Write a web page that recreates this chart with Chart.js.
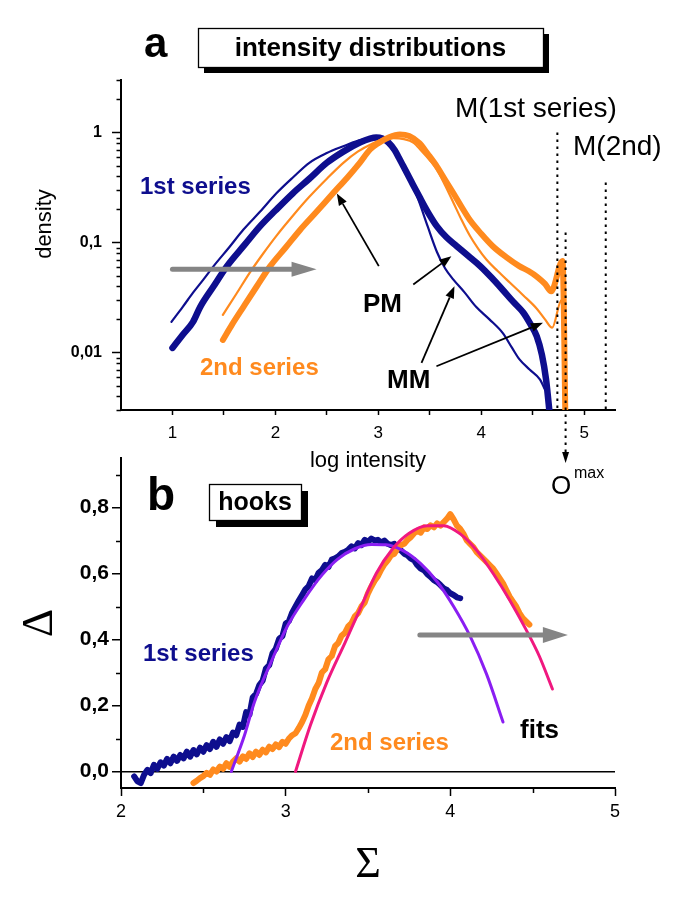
<!DOCTYPE html>
<html><head><meta charset="utf-8">
<script src="https://cdn.jsdelivr.net/npm/chart.js@4.4.1/dist/chart.umd.min.js"></script>
<style>
html,body{margin:0;padding:0;background:#fff;}
#wrap{position:relative;width:685px;height:906px;background:#fff;}
canvas{position:absolute;left:0;top:0;}
</style></head><body>
<div id="wrap"><canvas id="ca" width="685" height="906"></canvas><canvas id="cb" width="685" height="906"></canvas></div>
<script>
// ---------- Panel a: intensity distributions (log intensity vs density) ----------
const pm1X = [1.00,1.10,1.20,1.27,1.40,1.53,1.70,1.85,2.00,2.17,2.33,2.50,2.66,2.82,2.92,2.98,3.04,3.10,3.16,3.20,3.24,3.32,3.40,3.48,3.57,3.66,3.76,3.87,3.99,4.10,4.21,4.31,4.41,4.48,4.54,4.59,4.63,4.67];
const pm1Y = [0.011,0.0145,0.019,0.026,0.040,0.061,0.095,0.14,0.195,0.28,0.38,0.53,0.67,0.81,0.88,0.90,0.88,0.81,0.69,0.59,0.50,0.36,0.26,0.19,0.14,0.112,0.093,0.076,0.061,0.048,0.037,0.029,0.023,0.018,0.014,0.0095,0.0057,0.0025];
const mm1X = [0.99,1.10,1.20,1.30,1.40,1.55,1.69,1.85,2.01,2.17,2.33,2.50,2.66,2.80,2.90,2.97,3.04,3.10,3.16,3.24,3.32,3.40,3.48,3.57,3.65,3.73,3.84,3.95,4.08,4.21,4.30,4.37,4.47,4.57,4.62];
const mm1Y = [0.019,0.026,0.035,0.046,0.061,0.09,0.131,0.19,0.28,0.39,0.53,0.65,0.75,0.84,0.88,0.89,0.86,0.77,0.66,0.52,0.36,0.23,0.14,0.082,0.058,0.046,0.035,0.026,0.020,0.015,0.011,0.0087,0.0070,0.0057,0.0046];
const pm2X = [1.49,1.58,1.69,1.82,1.95,2.10,2.24,2.40,2.56,2.70,2.82,2.92,3.00,3.10,3.21,3.30,3.40,3.48,3.57,3.65,3.73,3.81,3.89,4.00,4.11,4.24,4.37,4.46,4.54,4.62,4.68,4.79,4.82];
const pm2Y = [0.013,0.018,0.026,0.040,0.061,0.090,0.13,0.19,0.28,0.39,0.53,0.70,0.80,0.90,0.96,0.93,0.80,0.64,0.49,0.37,0.28,0.21,0.16,0.12,0.093,0.074,0.061,0.055,0.049,0.042,0.036,0.068,0.002];
const mm2X = [1.49,1.62,1.75,1.88,2.01,2.17,2.33,2.50,2.66,2.80,2.95,3.05,3.15,3.25,3.34,3.42,3.50,3.57,3.65,3.73,3.81,3.89,3.97,4.05,4.16,4.28,4.41,4.54,4.62,4.69,4.78,4.82];
const mm2Y = [0.022,0.034,0.053,0.079,0.115,0.175,0.26,0.38,0.53,0.67,0.80,0.87,0.89,0.87,0.81,0.68,0.56,0.46,0.33,0.23,0.16,0.115,0.088,0.070,0.055,0.043,0.033,0.025,0.020,0.0168,0.030,0.002];
const aXTicks = [1,1.5,2,2.5,3,3.5,4,4.5,5];
const aYTicks = [0.003,0.004,0.005,0.006,0.007,0.008,0.009,0.01,0.02,0.03,0.04,0.05,0.06,0.07,0.08,0.09,0.1,0.2,0.3,0.4,0.5,0.6,0.7,0.8,0.9,1,2,3];
const aYLabelValues = [0.01,0.1,1];
const aYLabelTexts = ['0,01','0,1','1'];

// ---------- Panel b: hooks (Sigma vs Delta) ----------
const hook1X = [2.08,2.10,2.12,2.14,2.16,2.18,2.20,2.22,2.24,2.26,2.28,2.30,2.32,2.34,2.36,2.38,2.40,2.42,2.44,2.46,2.48,2.50,2.52,2.54,2.56,2.58,2.60,2.62,2.64,2.66,2.68,2.70,2.72,2.74,2.76,2.78,2.80,2.82,2.84,2.86,2.88,2.90,2.92,2.94,2.96,2.98,3.00,3.02,3.04,3.06,3.08,3.10,3.12,3.14,3.16,3.18,3.20,3.22,3.24,3.26,3.28,3.30,3.32,3.34,3.36,3.38,3.40,3.42,3.44,3.46,3.48,3.50,3.52,3.54,3.56,3.58,3.60,3.62,3.64,3.66,3.68,3.70,3.72,3.74,3.76,3.78,3.80,3.82,3.84,3.86,3.88,3.90,3.92,3.94,3.96,3.98,4.00,4.02,4.04,4.06];
const hook1Y = [-0.015,-0.030,-0.035,-0.010,0.005,-0.005,0.020,0.008,0.028,0.018,0.038,0.025,0.045,0.032,0.050,0.040,0.060,0.045,0.065,0.052,0.072,0.060,0.080,0.068,0.090,0.075,0.097,0.084,0.104,0.092,0.118,0.110,0.142,0.135,0.180,0.172,0.225,0.235,0.262,0.275,0.312,0.322,0.358,0.372,0.402,0.410,0.448,0.456,0.482,0.500,0.518,0.535,0.552,0.562,0.585,0.580,0.602,0.610,0.626,0.620,0.642,0.646,0.652,0.662,0.666,0.672,0.682,0.676,0.692,0.686,0.702,0.696,0.706,0.700,0.702,0.694,0.700,0.690,0.686,0.690,0.675,0.670,0.660,0.655,0.645,0.640,0.625,0.615,0.610,0.598,0.590,0.580,0.574,0.565,0.555,0.550,0.540,0.535,0.528,0.525];
const hook2X = [2.44,2.46,2.48,2.50,2.52,2.54,2.56,2.58,2.60,2.62,2.64,2.66,2.68,2.70,2.72,2.74,2.76,2.78,2.80,2.82,2.84,2.86,2.88,2.90,2.92,2.94,2.96,2.98,3.00,3.02,3.04,3.06,3.08,3.10,3.12,3.14,3.16,3.18,3.20,3.22,3.24,3.26,3.28,3.30,3.32,3.34,3.36,3.38,3.40,3.42,3.44,3.46,3.48,3.50,3.52,3.54,3.56,3.58,3.60,3.62,3.64,3.66,3.68,3.70,3.72,3.74,3.76,3.78,3.80,3.82,3.84,3.86,3.88,3.90,3.92,3.94,3.96,3.98,4.00,4.02,4.04,4.06,4.08,4.10,4.12,4.14,4.16,4.18,4.20,4.22,4.24,4.26,4.28,4.30,4.32,4.34,4.36,4.38,4.40,4.42,4.44,4.46,4.48];
const hook2Y = [-0.035,-0.028,-0.020,-0.014,-0.004,-0.010,0.006,0.000,0.015,0.008,0.025,0.014,0.030,0.040,0.030,0.046,0.038,0.055,0.044,0.060,0.050,0.066,0.058,0.075,0.068,0.082,0.074,0.090,0.084,0.100,0.110,0.116,0.132,0.150,0.172,0.200,0.222,0.250,0.268,0.300,0.310,0.340,0.350,0.380,0.390,0.412,0.420,0.440,0.450,0.470,0.480,0.500,0.512,0.540,0.560,0.578,0.592,0.612,0.628,0.640,0.655,0.660,0.676,0.686,0.690,0.702,0.710,0.722,0.730,0.724,0.740,0.735,0.746,0.740,0.752,0.745,0.756,0.766,0.780,0.764,0.745,0.735,0.720,0.700,0.690,0.680,0.665,0.655,0.645,0.635,0.625,0.615,0.600,0.585,0.570,0.550,0.530,0.515,0.500,0.480,0.465,0.455,0.445];
const fit1X = [2.67,2.75,2.81,2.91,3.01,3.11,3.22,3.32,3.42,3.52,3.61,3.71,3.82,3.92,4.02,4.12,4.22,4.32];
const fit1Y = [0.0,0.11,0.21,0.33,0.44,0.52,0.595,0.645,0.675,0.688,0.687,0.67,0.63,0.575,0.50,0.41,0.295,0.15];
const fit2X = [3.06,3.15,3.25,3.36,3.45,3.55,3.65,3.75,3.86,3.96,4.06,4.16,4.26,4.36,4.46,4.54,4.62];
const fit2Y = [0.0,0.14,0.27,0.39,0.49,0.60,0.675,0.722,0.745,0.745,0.72,0.67,0.60,0.52,0.43,0.35,0.25];
const bXTicks = [2,2.5,3,3.5,4,4.5,5];
const bYTicks = [0,0.1,0.2,0.3,0.4,0.5,0.6,0.7,0.8,0.9];

// ---------- helpers ----------
const SANS = '"Liberation Sans", Arial, Helvetica, sans-serif';
const SERIF = '"Liberation Serif", "Times New Roman", serif';
const BLUE = '#0e0e8e', ORANGE = '#ff8a1e', PURPLE = '#8a1ef2', PINK = '#f0187f', GRAY = '#858585';
const zip = (xs, ys) => xs.map((x, i) => ({x: x, y: ys[i]}));
function aLabel(v){
  for (let i = 0; i < aYLabelValues.length; i++) {
    if (Math.abs(Math.log10(v) - Math.log10(aYLabelValues[i])) < 1e-6) return aYLabelTexts[i];
  }
  return '';
}
const isHalf = v => Math.abs(v*2 - Math.round(v*2)) < 1e-6 && Math.abs(v - Math.round(v)) > 1e-6;
const bYLabel = v => (Math.abs(v*10 % 2) < 1e-6 || Math.abs(v*10 % 2 - 2) < 1e-6) ? v.toFixed(1).replace('.', ',') : '';
function line(ctx, x1, y1, x2, y2){ ctx.beginPath(); ctx.moveTo(x1, y1); ctx.lineTo(x2, y2); ctx.stroke(); }
function arrowTo(ctx, x1, y1, x2, y2, len, w){
  const a = Math.atan2(y2 - y1, x2 - x1);
  const bx = x2 - len*Math.cos(a), by = y2 - len*Math.sin(a);
  line(ctx, x1, y1, bx, by);
  ctx.beginPath();
  ctx.moveTo(x2, y2);
  ctx.lineTo(bx + w*Math.sin(a), by - w*Math.cos(a));
  ctx.lineTo(bx - w*Math.sin(a), by + w*Math.cos(a));
  ctx.closePath(); ctx.fill();
}
function fatArrow(ctx, x1, x2, y, lw, hl, hh){
  ctx.save();
  ctx.strokeStyle = GRAY; ctx.fillStyle = GRAY; ctx.lineWidth = lw; ctx.lineCap = 'round';
  line(ctx, x1, y, x2 - hl + 2, y);
  ctx.beginPath(); ctx.moveTo(x2 - hl, y - hh/2); ctx.lineTo(x2, y); ctx.lineTo(x2 - hl, y + hh/2); ctx.closePath(); ctx.fill();
  ctx.restore();
}
function titleBox(ctx, x, y, w, h, text, font, sh){
  ctx.fillStyle = '#000'; ctx.fillRect(x + sh, y + sh, w, h);
  ctx.fillStyle = '#fff'; ctx.fillRect(x, y, w, h);
  ctx.strokeStyle = '#000'; ctx.lineWidth = 1.3; ctx.strokeRect(x + 0.5, y + 0.5, w, h);
  ctx.fillStyle = '#000'; ctx.font = font; ctx.textAlign = 'center'; ctx.textBaseline = 'middle';
  ctx.fillText(text, x + w/2, y + h/2 + 1);
}
function txt(ctx, s, x, y, font, color, align){
  ctx.font = font; ctx.fillStyle = color; ctx.textAlign = align || 'left'; ctx.textBaseline = 'alphabetic';
  ctx.fillText(s, x, y);
}

// ---------- annotations panel a ----------
const annotA = {
  id: 'annotA',
  afterDraw(chart){
    const ctx = chart.ctx, ca = chart.chartArea;
    const X = v => chart.scales.x.getPixelForValue(v), Y = v => chart.scales.y.getPixelForValue(v);
    ctx.save();
    ctx.strokeStyle = '#000'; ctx.lineWidth = 1.5;
    aYTicks.forEach(v => { if (!aLabel(v)) { const p = Math.round(Y(v)) + 0.5; line(ctx, ca.left - 4.5, p, ca.left, p); } });
    ctx.lineWidth = 2; ctx.setLineDash([2.5, 4.5]);
    line(ctx, X(4.74), Y(1.0), X(4.74), ca.bottom);
    line(ctx, X(5.21), Y(0.351), X(5.21), ca.bottom);
    line(ctx, X(4.82), Y(0.123), X(4.82), ca.bottom + 42);
    ctx.setLineDash([]);
    ctx.fillStyle = '#000';
    ctx.beginPath(); ctx.moveTo(X(4.82) - 3.5, ca.bottom + 42); ctx.lineTo(X(4.82) + 3.5, ca.bottom + 42); ctx.lineTo(X(4.82), ca.bottom + 53); ctx.closePath(); ctx.fill();
    fatArrow(ctx, X(1.0), X(2.40), Y(0.057), 5, 25, 15);
    ctx.strokeStyle = '#000'; ctx.fillStyle = '#000'; ctx.lineWidth = 1.8;
    arrowTo(ctx, X(3.005), Y(0.061), X(2.597), Y(0.279), 12, 4.5);
    arrowTo(ctx, X(3.34), Y(0.0415), X(3.71), Y(0.075), 12, 4.5);
    arrowTo(ctx, X(3.42), Y(0.00805), X(3.74), Y(0.040), 12, 4.5);
    arrowTo(ctx, X(3.565), Y(0.0075), X(4.60), Y(0.0186), 12, 4.5);
    txt(ctx, 'a', 144, 57, 'bold 42px ' + SANS, '#000');
    titleBox(ctx, 198, 28, 345, 39, 'intensity distributions', 'bold 26px ' + SANS, 6);
    txt(ctx, '1st series', 140, 194, 'bold 24px ' + SANS, BLUE);
    txt(ctx, '2nd series', 200, 375, 'bold 24px ' + SANS, ORANGE);
    txt(ctx, 'PM', 363, 312, 'bold 26px ' + SANS, '#000');
    txt(ctx, 'MM', 387, 388, 'bold 26px ' + SANS, '#000');
    txt(ctx, 'M(1st series)', 455, 117, '28px ' + SANS, '#000');
    txt(ctx, 'M(2nd)', 573, 155, '28px ' + SANS, '#000');
    txt(ctx, 'O', 551, 494, '26px ' + SANS, '#000');
    txt(ctx, 'max', 574, 478, '16px ' + SANS, '#000');
    ctx.save(); ctx.translate(45, 224); ctx.rotate(-Math.PI/2);
    ctx.font = '22px ' + SANS; ctx.fillStyle = '#000'; ctx.textAlign = 'center'; ctx.textBaseline = 'middle';
    ctx.fillText('density', 0, 0); ctx.restore();
    ctx.restore();
  }
};

// ---------- annotations panel b ----------
const annotB = {
  id: 'annotB',
  afterDraw(chart){
    const ctx = chart.ctx, ca = chart.chartArea;
    const X = v => chart.scales.x.getPixelForValue(v), Y = v => chart.scales.y.getPixelForValue(v);
    ctx.save();
    ctx.strokeStyle = '#000'; ctx.lineWidth = 1.5;
    bYTicks.forEach(v => { if (!bYLabel(v)) { const p = Math.round(Y(v)) + 0.5; line(ctx, ca.left - 5, p, ca.left, p); } });
    bXTicks.forEach(v => { if (isHalf(v)) { const p = Math.round(X(v)) + 0.5; line(ctx, p, ca.bottom, p, ca.bottom + 5); } });
    fatArrow(ctx, X(3.815), X(4.714), Y(0.414), 5, 25, 16);
    txt(ctx, 'b', 147, 510, 'bold 46px ' + SANS, '#000');
    titleBox(ctx, 209, 484, 92, 36, 'hooks', 'bold 25px ' + SANS, 7);
    txt(ctx, '1st series', 143, 661, 'bold 24px ' + SANS, BLUE);
    txt(ctx, '2nd series', 330, 750, 'bold 24px ' + SANS, ORANGE);
    txt(ctx, 'fits', 520, 738, 'bold 26px ' + SANS, '#000');
    ctx.restore();
  }
};

const smoothLine = {pointRadius: 0, pointHoverRadius: 0, fill: false, cubicInterpolationMode: 'monotone', borderJoinStyle: 'round', borderCapStyle: 'round'};
const rawLine = {pointRadius: 0, pointHoverRadius: 0, fill: false, tension: 0, borderJoinStyle: 'round', borderCapStyle: 'round'};

new Chart(document.getElementById('ca'), {
  type: 'line',
  data: {
    datasets: [
      Object.assign({label: 'PM 2nd series', data: zip(pm2X, pm2Y), borderColor: ORANGE, borderWidth: 6, clip: 0}, smoothLine),
      Object.assign({label: 'MM 2nd series', data: zip(mm2X, mm2Y), borderColor: ORANGE, borderWidth: 2.2, clip: 0}, smoothLine),
      Object.assign({label: 'PM 1st series', data: zip(pm1X, pm1Y), borderColor: BLUE, borderWidth: 6.5, clip: 0}, smoothLine),
      Object.assign({label: 'MM 1st series', data: zip(mm1X, mm1Y), borderColor: BLUE, borderWidth: 2.2, clip: 0}, smoothLine)
    ]
  },
  options: {
    responsive: false, animation: false, devicePixelRatio: 1,
    layout: {padding: {top: 80, left: 0, right: 70, bottom: 426}},
    plugins: {legend: {display: false}, tooltip: {enabled: false}},
    events: [],
    scales: {
      x: {
        type: 'linear', min: 0.5, max: 5.3,
        afterFit: s => { s.height = 70; },
        afterBuildTicks: s => { s.ticks = aXTicks.map(v => ({value: v})); },
        grid: {display: true, drawOnChartArea: false, drawTicks: true, tickLength: 5, tickWidth: 1.5, tickColor: '#000'},
        border: {display: true, color: '#000', width: 2},
        ticks: {padding: 8, color: '#000', autoSkip: false, maxRotation: 0, font: {family: SANS, size: 17},
                callback: v => Number.isInteger(v) ? String(v) : ''},
        title: {display: true, text: 'log intensity', color: '#000', font: {family: SANS, size: 22, lineHeight: 1.2}, padding: {top: 0, bottom: 6}}
      },
      y: {
        type: 'logarithmic', min: 0.003, max: 3,
        afterFit: s => { s.width = 121; },
        afterBuildTicks: s => { s.ticks = aYTicks.map(v => ({value: v})); },
        grid: {display: true, drawOnChartArea: false, drawTicks: true, tickLength: 9, tickWidth: 1.5,
               tickColor: c => (c.tick && aLabel(c.tick.value)) ? '#000' : 'rgba(0,0,0,0)'},
        border: {display: true, color: '#000', width: 2},
        ticks: {padding: 10, color: '#000', autoSkip: false, font: {family: SANS, size: 16, weight: 'bold'},
                callback: v => aLabel(v)}
      }
    }
  },
  plugins: [annotA]
});

new Chart(document.getElementById('cb'), {
  type: 'line',
  data: {
    datasets: [
      Object.assign({label: 'fit 2nd series', data: zip(fit2X, fit2Y), borderColor: PINK, borderWidth: 3}, smoothLine),
      Object.assign({label: 'fit 1st series', data: zip(fit1X, fit1Y), borderColor: PURPLE, borderWidth: 3}, smoothLine),
      Object.assign({label: '2nd series', data: zip(hook2X, hook2Y), borderColor: ORANGE, borderWidth: 6}, rawLine),
      Object.assign({label: '1st series', data: zip(hook1X, hook1Y), borderColor: BLUE, borderWidth: 6}, rawLine)
    ]
  },
  options: {
    responsive: false, animation: false, devicePixelRatio: 1,
    layout: {padding: {top: 458, left: 0, right: 70, bottom: 8}},
    plugins: {legend: {display: false}, tooltip: {enabled: false}},
    events: [],
    scales: {
      x: {
        type: 'linear', min: 2, max: 5,
        afterFit: s => { s.height = 110; },
        afterBuildTicks: s => { s.ticks = bXTicks.map(v => ({value: v})); },
        grid: {display: true, drawOnChartArea: false, drawTicks: true, tickLength: 8, tickWidth: 1.5,
               tickColor: c => (c.tick && Number.isInteger(c.tick.value)) ? '#000' : 'rgba(0,0,0,0)'},
        border: {display: true, color: '#000', width: 2},
        ticks: {padding: 5, color: '#000', autoSkip: false, maxRotation: 0, font: {family: SANS, size: 18},
                callback: v => Number.isInteger(v) ? String(v) : ''},
        title: {display: true, text: 'Σ', color: '#000', font: {family: SERIF, size: 44, lineHeight: 1}, padding: {top: 0, bottom: 11}}
      },
      y: {
        type: 'linear', min: -0.05, max: 0.95,
        afterFit: s => { s.width = 121; },
        afterBuildTicks: s => { s.ticks = bYTicks.map(v => ({value: v})); },
        grid: {display: true, drawOnChartArea: true, drawTicks: true, tickLength: 9, tickWidth: 1.5, lineWidth: 1.5,
               color: c => (c.tick && Math.abs(c.tick.value) < 1e-9) ? '#000' : 'rgba(0,0,0,0)',
               tickColor: c => (c.tick && bYLabel(c.tick.value)) ? '#000' : 'rgba(0,0,0,0)'},
        border: {display: true, color: '#000', width: 2},
        ticks: {padding: 3, color: '#000', autoSkip: false, font: {family: SANS, size: 21, weight: 'bold'},
                callback: v => bYLabel(v)},
        title: {display: true, text: 'Δ', color: '#000', font: {family: SERIF, size: 44, lineHeight: 1}, padding: {top: 18, bottom: 0}}
      }
    }
  },
  plugins: [annotB]
});
</script>
</body></html>
